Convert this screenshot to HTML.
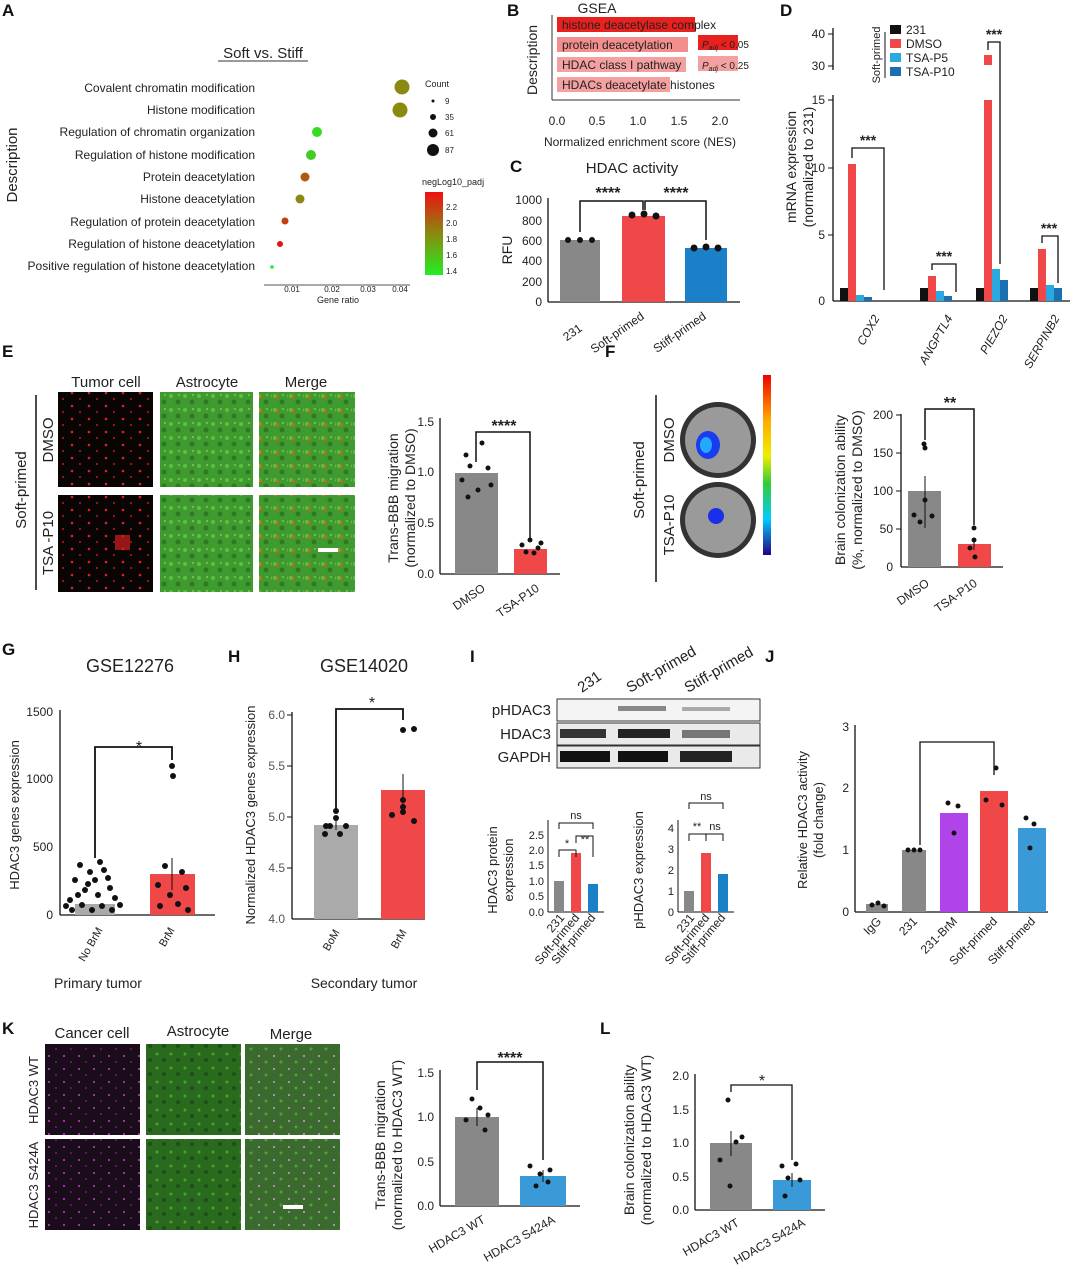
<!DOCTYPE html>
<html><head><meta charset="utf-8"><style>
body{margin:0;background:#fff}
svg{display:block;font-family:"Liberation Sans",Arial,sans-serif}
</style></head><body>
<svg width="1080" height="1273" viewBox="0 0 1080 1273" xmlns="http://www.w3.org/2000/svg">
<defs>
<linearGradient id="gr" x1="0" y1="0" x2="0" y2="1"><stop offset="0" stop-color="#ee1111"/><stop offset="0.5" stop-color="#8a8a10"/><stop offset="1" stop-color="#22ee22"/></linearGradient>
<linearGradient id="rb" x1="0" y1="0" x2="0" y2="1"><stop offset="0" stop-color="#e00"/><stop offset="0.25" stop-color="#fa0"/><stop offset="0.45" stop-color="#ee0"/><stop offset="0.6" stop-color="#3c3"/><stop offset="0.8" stop-color="#0cf"/><stop offset="1" stop-color="#208"/></linearGradient>
<pattern id="gn" width="14" height="14" patternUnits="userSpaceOnUse"><rect width="14" height="14" fill="#3f9a30"/><circle cx="3" cy="4" r="2" fill="#5cc040"/><circle cx="10" cy="10" r="2.5" fill="#2e7a22"/><circle cx="11" cy="3" r="1" fill="#7ad050"/></pattern>
<pattern id="gk" width="14" height="14" patternUnits="userSpaceOnUse"><rect width="14" height="14" fill="#2a6a1e"/><circle cx="3" cy="4" r="1.5" fill="#4aa030"/><circle cx="10" cy="10" r="2" fill="#1e4e16"/></pattern>
<pattern id="rd" width="17" height="13" patternUnits="userSpaceOnUse"><rect width="17" height="13" fill="#0a0505"/><circle cx="4" cy="3" r="1.3" fill="#e02020"/><circle cx="12" cy="9" r="1" fill="#c01818"/></pattern>
<pattern id="mg" width="15" height="13" patternUnits="userSpaceOnUse"><rect width="15" height="13" fill="#1a0c1a"/><circle cx="4" cy="3" r="1" fill="#c040c0"/><circle cx="11" cy="9" r="0.8" fill="#a030a0"/></pattern>
<pattern id="mgm" width="15" height="13" patternUnits="userSpaceOnUse"><rect width="15" height="13" fill="#3a6a2e"/><circle cx="4" cy="3" r="1" fill="#c8a0d0"/><circle cx="11" cy="9" r="1.5" fill="#5a9a40"/></pattern>
<pattern id="mr" width="16" height="14" patternUnits="userSpaceOnUse"><rect width="16" height="14" fill="url(#gn)"/><circle cx="5" cy="5" r="1.5" fill="#e06010"/></pattern>
</defs>
<g font-size="13" fill="#222">
<g font-size="17" font-weight="bold" fill="#111">
<text x="2" y="16">A</text><text x="507" y="16">B</text><text x="510" y="172">C</text><text x="780" y="16">D</text>
<text x="2" y="357">E</text><text x="605" y="357">F</text><text x="2" y="655">G</text><text x="228" y="662">H</text>
<text x="470" y="662">I</text><text x="765" y="662">J</text><text x="2" y="1034">K</text><text x="600" y="1034">L</text>
</g>

<!-- A -->
<text x="263" y="58" text-anchor="middle" font-size="15">Soft  vs. Stiff</text>
<line x1="218" y1="61" x2="308" y2="61" stroke="#333"/>
<text transform="translate(17,165) rotate(-90)" text-anchor="middle" font-size="15">Description</text>
<g text-anchor="end" font-size="12">
<text x="255" y="92">Covalent chromatin modification</text>
<text x="255" y="114">Histone modification</text>
<text x="255" y="136">Regulation of chromatin organization</text>
<text x="255" y="159">Regulation of histone modification</text>
<text x="255" y="181">Protein deacetylation</text>
<text x="255" y="203">Histone deacetylation</text>
<text x="255" y="226">Regulation of protein deacetylation</text>
<text x="255" y="248">Regulation of histone deacetylation</text>
<text x="255" y="270">Positive regulation of histone deacetylation</text>
</g>
<line x1="264" y1="285" x2="410" y2="285" stroke="#555"/>
<g font-size="8" text-anchor="middle"><text x="292" y="292">0.01</text><text x="332" y="292">0.02</text><text x="368" y="292">0.03</text><text x="400" y="292">0.04</text></g>
<text x="338" y="303" font-size="9" text-anchor="middle">Gene ratio</text>
<circle cx="402" cy="87" r="7.5" fill="#8a8a10"/><circle cx="400" cy="110" r="7.5" fill="#8a8a10"/>
<circle cx="317" cy="132" r="5" fill="#33dd22"/><circle cx="311" cy="155" r="5" fill="#44cc22"/>
<circle cx="305" cy="177" r="4.5" fill="#b05a10"/><circle cx="300" cy="199" r="4.5" fill="#8a8a10"/>
<circle cx="285" cy="221" r="3.5" fill="#c04010"/><circle cx="280" cy="244" r="3" fill="#e01515"/>
<circle cx="272" cy="267" r="1.8" fill="#22ee22"/>
<text x="425" y="87" font-size="9">Count</text>
<circle cx="433" cy="101" r="1.5" fill="#111"/><text x="445" y="104" font-size="8">9</text>
<circle cx="433" cy="117" r="3" fill="#111"/><text x="445" y="120" font-size="8">35</text>
<circle cx="433" cy="133" r="4.5" fill="#111"/><text x="445" y="136" font-size="8">61</text>
<circle cx="433" cy="150" r="6" fill="#111"/><text x="445" y="153" font-size="8">87</text>
<text x="422" y="185" font-size="9">negLog10_padj</text>
<rect x="425" y="192" width="18" height="83" fill="url(#gr)"/>
<g font-size="8"><text x="446" y="210">2.2</text><text x="446" y="226">2.0</text><text x="446" y="242">1.8</text><text x="446" y="258">1.6</text><text x="446" y="274">1.4</text></g>

<!-- B -->
<text x="597" y="13" text-anchor="middle" font-size="14">GSEA</text>
<text transform="translate(537,60) rotate(-90)" text-anchor="middle" font-size="14">Description</text>
<line x1="552" y1="15" x2="552" y2="100" stroke="#333"/><line x1="552" y1="100" x2="740" y2="100" stroke="#333"/>
<rect x="557" y="17" width="138" height="15" fill="#e8201e"/>
<rect x="557" y="37" width="131" height="15" fill="#f28e8e"/>
<rect x="557" y="57" width="129" height="15" fill="#f4a0a0"/>
<rect x="557" y="77" width="113" height="15" fill="#f4a0a0"/>
<rect x="698" y="35" width="40" height="15" fill="#e8201e"/>
<rect x="698" y="56" width="40" height="15" fill="#f4a0a0"/>
<g font-size="12"><text x="562" y="29">histone deacetylase complex</text><text x="562" y="49">protein deacetylation</text><text x="562" y="69">HDAC class I pathway</text><text x="562" y="89">HDACs deacetylate histones</text></g>
<g font-size="10" font-style="italic"><text x="702" y="48">P<tspan font-size="7" dy="2">adj</tspan><tspan dy="-2" font-style="normal"> &lt; 0.05</tspan></text><text x="702" y="69">P<tspan font-size="7" dy="2">adj</tspan><tspan dy="-2" font-style="normal"> &lt; 0.25</tspan></text></g>
<g font-size="12" text-anchor="middle"><text x="557" y="125">0.0</text><text x="597" y="125">0.5</text><text x="638" y="125">1.0</text><text x="679" y="125">1.5</text><text x="720" y="125">2.0</text></g>
<text x="640" y="146" text-anchor="middle" font-size="12">Normalized enrichment score (NES)</text>

<!-- C -->
<text x="632" y="173" text-anchor="middle" font-size="15">HDAC activity</text>
<text transform="translate(512,250) rotate(-90)" text-anchor="middle" font-size="14">RFU</text>
<line x1="548" y1="198" x2="548" y2="302" stroke="#111" stroke-width="1.3"/><line x1="548" y1="302" x2="740" y2="302" stroke="#111" stroke-width="1.3"/>
<g font-size="12" text-anchor="end"><text x="542" y="306">0</text><text x="542" y="286">200</text><text x="542" y="265">400</text><text x="542" y="245">600</text><text x="542" y="225">800</text><text x="542" y="204">1000</text></g>
<rect x="560" y="240" width="40" height="62" fill="#888"/><rect x="622" y="216" width="43" height="86" fill="#f04848"/><rect x="685" y="248" width="42" height="54" fill="#1a80c8"/>
<g fill="#111"><circle cx="568" cy="240" r="3"/><circle cx="580" cy="240" r="3"/><circle cx="592" cy="240" r="3"/><circle cx="632" cy="215" r="3.5"/><circle cx="644" cy="214" r="3.5"/><circle cx="656" cy="216" r="3.5"/><circle cx="694" cy="248" r="3.5"/><circle cx="706" cy="247" r="3.5"/><circle cx="718" cy="248" r="3.5"/></g>
<path d="M580 232V201H643V210M645 210V201H706V240" fill="none" stroke="#111" stroke-width="1.5"/>
<text x="608" y="198" text-anchor="middle" font-size="16" font-weight="bold">****</text><text x="676" y="198" text-anchor="middle" font-size="16" font-weight="bold">****</text>
<g font-size="12"><text transform="translate(583,330) rotate(-35)" text-anchor="end">231</text><text transform="translate(645,318) rotate(-35)" text-anchor="end">Soft-primed</text><text transform="translate(707,318) rotate(-35)" text-anchor="end">Stiff-primed</text></g>

<!-- D -->
<text transform="translate(796,167) rotate(-90)" text-anchor="middle" font-size="14">mRNA expression</text>
<text transform="translate(813,167) rotate(-90)" text-anchor="middle" font-size="14">(normalized to 231)</text>
<line x1="833" y1="28" x2="833" y2="70" stroke="#111" stroke-width="1.3"/><line x1="833" y1="95" x2="833" y2="301" stroke="#111" stroke-width="1.3"/>
<line x1="833" y1="301" x2="1070" y2="301" stroke="#111" stroke-width="1.3"/>
<g font-size="12" text-anchor="end"><text x="825" y="38">40</text><text x="825" y="70">30</text><text x="825" y="104">15</text><text x="825" y="172">10</text><text x="825" y="239">5</text><text x="825" y="305">0</text></g>
<g stroke="#111"><line x1="828" y1="34" x2="833" y2="34"/><line x1="828" y1="66" x2="833" y2="66"/><line x1="828" y1="100" x2="833" y2="100"/><line x1="828" y1="168" x2="833" y2="168"/><line x1="828" y1="235" x2="833" y2="235"/></g>
<g>
<rect x="840" y="288" width="8" height="13" fill="#111"/><rect x="848" y="164" width="8" height="137" fill="#f04848"/><rect x="856" y="295" width="8" height="6" fill="#2aa8e0"/><rect x="864" y="297" width="8" height="4" fill="#1a70b0"/>
<rect x="920" y="288" width="8" height="13" fill="#111"/><rect x="928" y="276" width="8" height="25" fill="#f04848"/><rect x="936" y="291" width="8" height="10" fill="#2aa8e0"/><rect x="944" y="296" width="8" height="5" fill="#1a70b0"/>
<rect x="976" y="288" width="8" height="13" fill="#111"/><rect x="984" y="100" width="8" height="201" fill="#f04848"/><rect x="984" y="55" width="8" height="10" fill="#f04848"/><rect x="992" y="269" width="8" height="32" fill="#2aa8e0"/><rect x="1000" y="280" width="8" height="21" fill="#1a70b0"/>
<rect x="1030" y="288" width="8" height="13" fill="#111"/><rect x="1038" y="249" width="8" height="52" fill="#f04848"/><rect x="1046" y="285" width="8" height="16" fill="#2aa8e0"/><rect x="1054" y="288" width="8" height="13" fill="#1a70b0"/>
</g>
<g fill="none" stroke="#111" stroke-width="1.3"><path d="M852 158V148H884V290"/><path d="M932 270V264H956V292"/><path d="M988 50V42H1000V264"/><path d="M1042 243V236H1058V283"/></g>
<g font-size="14" font-weight="bold" text-anchor="middle"><text x="868" y="145">***</text><text x="944" y="261">***</text><text x="994" y="39">***</text><text x="1049" y="233">***</text></g>
<g font-size="12" font-style="italic"><text transform="translate(880,318) rotate(-60)" text-anchor="end">COX2</text><text transform="translate(953,318) rotate(-60)" text-anchor="end">ANGPTL4</text><text transform="translate(1008,318) rotate(-60)" text-anchor="end">PIEZO2</text><text transform="translate(1060,318) rotate(-60)" text-anchor="end">SERPINB2</text></g>
<text transform="translate(880,55) rotate(-90)" text-anchor="middle" font-size="11">Soft-primed</text>
<line x1="885" y1="32" x2="885" y2="78" stroke="#111"/>
<g font-size="12"><rect x="890" y="25" width="11" height="9" fill="#111"/><text x="906" y="34">231</text>
<rect x="890" y="39" width="11" height="9" fill="#f04848"/><text x="906" y="48">DMSO</text>
<rect x="890" y="53" width="11" height="9" fill="#2aa8e0"/><text x="906" y="62">TSA-P5</text>
<rect x="890" y="67" width="11" height="9" fill="#1a70b0"/><text x="906" y="76">TSA-P10</text></g>

<!-- E -->
<g font-size="15" text-anchor="middle"><text x="106" y="387">Tumor cell</text><text x="207" y="387">Astrocyte</text><text x="306" y="387">Merge</text></g>
<rect x="58" y="392" width="95" height="95" fill="url(#rd)"/><rect x="160" y="392" width="93" height="95" fill="url(#gn)"/><rect x="259" y="392" width="96" height="95" fill="url(#mr)"/>
<rect x="58" y="495" width="95" height="97" fill="url(#rd)"/><rect x="160" y="495" width="93" height="97" fill="url(#gn)"/><rect x="259" y="495" width="96" height="97" fill="url(#mr)"/>
<rect x="115" y="535" width="15" height="15" fill="#d02020" opacity="0.7"/><rect x="318" y="548" width="20" height="4" fill="#fff"/>
<line x1="36" y1="395" x2="36" y2="590" stroke="#111" stroke-width="1.5"/>
<text transform="translate(26,490) rotate(-90)" text-anchor="middle" font-size="15">Soft-primed</text>
<text transform="translate(53,440) rotate(-90)" text-anchor="middle" font-size="15">DMSO</text>
<text transform="translate(53,543) rotate(-90)" text-anchor="middle" font-size="15">TSA -P10</text>
<text transform="translate(398,498) rotate(-90)" text-anchor="middle" font-size="14">Trans-BBB migration</text>
<text transform="translate(415,498) rotate(-90)" text-anchor="middle" font-size="14">(normalized to DMSO)</text>
<line x1="440" y1="418" x2="440" y2="574" stroke="#111" stroke-width="1.3"/><line x1="440" y1="574" x2="560" y2="574" stroke="#111" stroke-width="1.3"/>
<g font-size="12" text-anchor="end"><text x="434" y="578">0.0</text><text x="434" y="527">0.5</text><text x="434" y="476">1.0</text><text x="434" y="426">1.5</text></g>
<rect x="455" y="473" width="43" height="101" fill="#888"/><rect x="514" y="549" width="33" height="25" fill="#f04848"/>
<g fill="#111"><circle cx="466" cy="455" r="2.5"/><circle cx="482" cy="443" r="2.5"/><circle cx="470" cy="466" r="2.5"/><circle cx="488" cy="468" r="2.5"/><circle cx="462" cy="480" r="2.5"/><circle cx="478" cy="490" r="2.5"/><circle cx="491" cy="485" r="2.5"/><circle cx="468" cy="497" r="2.5"/><circle cx="522" cy="545" r="2.5"/><circle cx="530" cy="540" r="2.5"/><circle cx="538" cy="548" r="2.5"/><circle cx="526" cy="552" r="2.5"/><circle cx="534" cy="553" r="2.5"/><circle cx="541" cy="543" r="2.5"/></g>
<path d="M476 462V432H530V540" fill="none" stroke="#111" stroke-width="1.5"/>
<text x="504" y="431" text-anchor="middle" font-size="16" font-weight="bold">****</text>
<g font-size="12"><text transform="translate(486,590) rotate(-35)" text-anchor="end">DMSO</text><text transform="translate(540,590) rotate(-35)" text-anchor="end">TSA-P10</text></g>

<!-- F -->
<line x1="656" y1="395" x2="656" y2="582" stroke="#111" stroke-width="1.5"/>
<text transform="translate(644,480) rotate(-90)" text-anchor="middle" font-size="15">Soft-primed</text>
<text transform="translate(674,440) rotate(-90)" text-anchor="middle" font-size="15">DMSO</text>
<text transform="translate(674,525) rotate(-90)" text-anchor="middle" font-size="15">TSA-P10</text>
<circle cx="718" cy="440" r="38" fill="#333"/><circle cx="718" cy="440" r="33" fill="#9a9a9a"/><ellipse cx="708" cy="445" rx="12" ry="14" fill="#1a3cf0"/><ellipse cx="706" cy="445" rx="6" ry="8" fill="#22aaff"/>
<circle cx="718" cy="520" r="38" fill="#333"/><circle cx="718" cy="520" r="33" fill="#9a9a9a"/><circle cx="716" cy="516" r="8" fill="#1a30e8"/>
<rect x="763" y="375" width="8" height="180" fill="url(#rb)"/>
<text transform="translate(845,490) rotate(-90)" text-anchor="middle" font-size="14">Brain colonization ability</text>
<text transform="translate(862,490) rotate(-90)" text-anchor="middle" font-size="14">(%, normalized to DMSO)</text>
<line x1="901" y1="414" x2="901" y2="567" stroke="#111" stroke-width="1.3"/><line x1="901" y1="567" x2="1003" y2="567" stroke="#111" stroke-width="1.3"/>
<g stroke="#111"><line x1="896" y1="415" x2="901" y2="415"/><line x1="896" y1="453" x2="901" y2="453"/><line x1="896" y1="491" x2="901" y2="491"/><line x1="896" y1="529" x2="901" y2="529"/></g>
<g font-size="12" text-anchor="end"><text x="893" y="571">0</text><text x="893" y="533">50</text><text x="893" y="495">100</text><text x="893" y="457">150</text><text x="893" y="419">200</text></g>
<rect x="908" y="491" width="33" height="76" fill="#888"/><rect x="958" y="557" width="33" height="10" fill="#f04848"/><rect x="958" y="544" width="33" height="23" fill="#f04848"/>
<line x1="925" y1="476" x2="925" y2="528" stroke="#111"/><line x1="974" y1="538" x2="974" y2="550" stroke="#111"/>
<g fill="#111"><circle cx="924" cy="444" r="2.5"/><circle cx="925" cy="448" r="2.5"/><circle cx="925" cy="500" r="2.5"/><circle cx="932" cy="516" r="2.5"/><circle cx="920" cy="522" r="2.5"/><circle cx="914" cy="515" r="2.5"/><circle cx="974" cy="528" r="2.5"/><circle cx="974" cy="540" r="2.5"/><circle cx="970" cy="548" r="2.5"/><circle cx="975" cy="557" r="2.5"/></g>
<path d="M925 440V409H974V525" fill="none" stroke="#111" stroke-width="1.5"/>
<text x="950" y="408" text-anchor="middle" font-size="16" font-weight="bold">**</text>
<g font-size="12"><text transform="translate(930,585) rotate(-35)" text-anchor="end">DMSO</text><text transform="translate(978,585) rotate(-35)" text-anchor="end">TSA-P10</text></g>

<!-- G -->
<text x="130" y="672" text-anchor="middle" font-size="18">GSE12276</text>
<text transform="translate(19,815) rotate(-90)" text-anchor="middle" font-size="13">HDAC3 genes expression</text>
<line x1="60" y1="710" x2="60" y2="915" stroke="#111" stroke-width="1.3"/><line x1="60" y1="915" x2="215" y2="915" stroke="#111" stroke-width="1.3"/>
<g font-size="12" text-anchor="end"><text x="53" y="919">0</text><text x="53" y="851">500</text><text x="53" y="783">1000</text><text x="53" y="716">1500</text></g>
<rect x="75" y="904" width="40" height="11" fill="#aaa"/><rect x="150" y="874" width="45" height="41" fill="#f04848"/>
<g fill="#111"><circle cx="80" cy="865" r="3"/><circle cx="100" cy="862" r="3"/><circle cx="90" cy="872" r="3"/><circle cx="75" cy="880" r="3"/><circle cx="108" cy="878" r="3"/><circle cx="85" cy="890" r="3"/><circle cx="98" cy="895" r="3"/><circle cx="70" cy="900" r="3"/><circle cx="115" cy="898" r="3"/><circle cx="82" cy="905" r="3"/><circle cx="102" cy="906" r="3"/><circle cx="92" cy="910" r="3"/><circle cx="110" cy="888" r="3"/><circle cx="78" cy="895" r="3"/><circle cx="88" cy="884" r="3"/><circle cx="104" cy="870" r="3"/><circle cx="72" cy="910" r="3"/><circle cx="112" cy="910" r="3"/><circle cx="95" cy="880" r="3"/><circle cx="120" cy="905" r="3"/><circle cx="66" cy="906" r="3"/><circle cx="172" cy="766" r="3"/><circle cx="173" cy="776" r="3"/><circle cx="165" cy="866" r="3"/><circle cx="182" cy="872" r="3"/><circle cx="158" cy="885" r="3"/><circle cx="186" cy="888" r="3"/><circle cx="170" cy="895" r="3"/><circle cx="178" cy="904" r="3"/><circle cx="160" cy="906" r="3"/><circle cx="188" cy="910" r="3"/></g>
<line x1="172" y1="858" x2="172" y2="890" stroke="#111"/>
<path d="M95 858V747H172V760" fill="none" stroke="#111" stroke-width="1.8"/>
<text x="139" y="752" text-anchor="middle" font-size="16">*</text>
<g font-size="11"><text transform="translate(103,930) rotate(-60)" text-anchor="end">No BrM</text><text transform="translate(175,930) rotate(-60)" text-anchor="end">BrM</text></g>
<text x="98" y="988" text-anchor="middle" font-size="14">Primary tumor</text>

<!-- H -->
<text x="364" y="672" text-anchor="middle" font-size="18">GSE14020</text>
<text transform="translate(255,815) rotate(-90)" text-anchor="middle" font-size="13">Normalized HDAC3 genes expression</text>
<line x1="292" y1="712" x2="292" y2="919" stroke="#111" stroke-width="1.3"/><line x1="292" y1="919" x2="425" y2="919" stroke="#111" stroke-width="1.3"/>
<g stroke="#111"><line x1="287" y1="715" x2="292" y2="715"/><line x1="287" y1="766" x2="292" y2="766"/><line x1="287" y1="817" x2="292" y2="817"/><line x1="287" y1="868" x2="292" y2="868"/></g>
<g font-size="12" text-anchor="end" fill="#555"><text x="285" y="923">4.0</text><text x="285" y="872">4.5</text><text x="285" y="821">5.0</text><text x="285" y="770">5.5</text><text x="285" y="719">6.0</text></g>
<rect x="314" y="825" width="44" height="94" fill="#aaa"/><rect x="381" y="790" width="44" height="129" fill="#f04848"/>
<line x1="336" y1="820" x2="336" y2="830" stroke="#111"/><line x1="403" y1="774" x2="403" y2="806" stroke="#111"/>
<g fill="#111"><circle cx="325" cy="834" r="3"/><circle cx="336" cy="811" r="3"/><circle cx="336" cy="818" r="3"/><circle cx="330" cy="826" r="3"/><circle cx="346" cy="826" r="3"/><circle cx="340" cy="834" r="3"/><circle cx="326" cy="826" r="3"/><circle cx="403" cy="730" r="3"/><circle cx="414" cy="729" r="3"/><circle cx="403" cy="800" r="3"/><circle cx="392" cy="815" r="3"/><circle cx="403" cy="812" r="3"/><circle cx="414" cy="821" r="3"/><circle cx="403" cy="807" r="3"/></g>
<path d="M336 810V709H403V720" fill="none" stroke="#111" stroke-width="1.8"/>
<text x="372" y="708" text-anchor="middle" font-size="16">*</text>
<g font-size="11"><text transform="translate(340,932) rotate(-60)" text-anchor="end">BoM</text><text transform="translate(407,932) rotate(-60)" text-anchor="end">BrM</text></g>
<text x="364" y="988" text-anchor="middle" font-size="14">Secondary tumor</text>

<!-- I -->
<g font-size="15"><text transform="translate(582,693) rotate(-35)">231</text><text transform="translate(630,693) rotate(-30)">Soft-primed</text><text transform="translate(688,693) rotate(-30)">Stiff-primed</text></g>
<g font-size="15" text-anchor="end"><text x="551" y="715">pHDAC3</text><text x="551" y="739">HDAC3</text><text x="551" y="762">GAPDH</text></g>
<rect x="557" y="699" width="203" height="22" fill="#f4f4f4" stroke="#333"/><rect x="557" y="723" width="203" height="22" fill="#eaeaea" stroke="#333"/><rect x="557" y="746" width="203" height="22" fill="#eaeaea" stroke="#333"/>
<rect x="618" y="706" width="48" height="5" fill="#888"/><rect x="682" y="707" width="48" height="4" fill="#aaa"/>
<rect x="560" y="729" width="46" height="9" fill="#333"/><rect x="618" y="729" width="52" height="9" fill="#222"/><rect x="682" y="730" width="48" height="8" fill="#777"/>
<rect x="560" y="751" width="50" height="11" fill="#111"/><rect x="618" y="751" width="50" height="11" fill="#111"/><rect x="680" y="751" width="52" height="11" fill="#222"/>
<text transform="translate(497,870) rotate(-90)" text-anchor="middle" font-size="13">HDAC3 protein</text>
<text transform="translate(513,870) rotate(-90)" text-anchor="middle" font-size="13">expression</text>
<line x1="548" y1="820" x2="548" y2="912" stroke="#111"/><line x1="548" y1="912" x2="604" y2="912" stroke="#111"/>
<g font-size="11" text-anchor="end"><text x="544" y="916">0.0</text><text x="544" y="900">0.5</text><text x="544" y="885">1.0</text><text x="544" y="869">1.5</text><text x="544" y="854">2.0</text><text x="544" y="839">2.5</text></g>
<rect x="554" y="881" width="10" height="31" fill="#888"/><rect x="571" y="853" width="10" height="59" fill="#f04848"/><rect x="588" y="884" width="10" height="28" fill="#1a80c8"/>
<path d="M559 829V823H593V829M559 857V850H576V857M576 843V836H593V857" fill="none" stroke="#111"/>
<g font-size="11" text-anchor="middle"><text x="576" y="819">ns</text><text x="567" y="847">*</text><text x="585" y="843">**</text></g>
<g font-size="12"><text transform="translate(565,918) rotate(-50)" text-anchor="end">231</text><text transform="translate(580,918) rotate(-50)" text-anchor="end">Soft-primed</text><text transform="translate(596,918) rotate(-50)" text-anchor="end">Stiff-primed</text></g>
<text transform="translate(643,870) rotate(-90)" text-anchor="middle" font-size="13">pHDAC3 expression</text>
<line x1="678" y1="820" x2="678" y2="912" stroke="#111"/><line x1="678" y1="912" x2="734" y2="912" stroke="#111"/>
<g font-size="11" text-anchor="end"><text x="674" y="916">0</text><text x="674" y="895">1</text><text x="674" y="874">2</text><text x="674" y="853">3</text><text x="674" y="832">4</text></g>
<rect x="684" y="891" width="10" height="21" fill="#888"/><rect x="701" y="853" width="10" height="59" fill="#f04848"/><rect x="718" y="874" width="10" height="38" fill="#1a80c8"/>
<path d="M689 809V803H723V809M689 841V834H706V841M706 841V834H723V841" fill="none" stroke="#111"/>
<g font-size="11" text-anchor="middle"><text x="706" y="800">ns</text><text x="697" y="830">**</text><text x="715" y="830">ns</text></g>
<g font-size="12"><text transform="translate(695,918) rotate(-50)" text-anchor="end">231</text><text transform="translate(710,918) rotate(-50)" text-anchor="end">Soft-primed</text><text transform="translate(726,918) rotate(-50)" text-anchor="end">Stiff-primed</text></g>

<!-- J -->
<text transform="translate(807,820) rotate(-90)" text-anchor="middle" font-size="13">Relative HDAC3 activity</text>
<text transform="translate(823,820) rotate(-90)" text-anchor="middle" font-size="13">(fold change)</text>
<line x1="855" y1="725" x2="855" y2="912" stroke="#111" stroke-width="1.3"/><line x1="855" y1="912" x2="1048" y2="912" stroke="#111" stroke-width="1.3"/>
<g font-size="12" text-anchor="end"><text x="849" y="916">0</text><text x="849" y="854">1</text><text x="849" y="792">2</text><text x="849" y="731">3</text></g>
<rect x="866" y="904" width="22" height="8" fill="#888"/><rect x="902" y="850" width="24" height="62" fill="#888"/><rect x="940" y="813" width="28" height="99" fill="#b044e8"/><rect x="980" y="791" width="28" height="121" fill="#f04848"/><rect x="1018" y="828" width="28" height="84" fill="#3a9ad8"/>
<g fill="#111"><circle cx="872" cy="905" r="2.5"/><circle cx="878" cy="903" r="2.5"/><circle cx="884" cy="906" r="2.5"/><circle cx="908" cy="850" r="2.5"/><circle cx="914" cy="850" r="2.5"/><circle cx="920" cy="850" r="2.5"/><circle cx="948" cy="803" r="2.5"/><circle cx="958" cy="806" r="2.5"/><circle cx="954" cy="833" r="2.5"/><circle cx="986" cy="800" r="2.5"/><circle cx="996" cy="768" r="2.5"/><circle cx="1002" cy="805" r="2.5"/><circle cx="1026" cy="818" r="2.5"/><circle cx="1034" cy="824" r="2.5"/><circle cx="1030" cy="848" r="2.5"/></g>
<path d="M920 845V742H994V775" fill="none" stroke="#111" stroke-width="1.3"/>
<g font-size="12"><text transform="translate(882,922) rotate(-45)" text-anchor="end">IgG</text><text transform="translate(918,922) rotate(-45)" text-anchor="end">231</text><text transform="translate(958,922) rotate(-45)" text-anchor="end">231-BrM</text><text transform="translate(998,922) rotate(-45)" text-anchor="end">Soft-primed</text><text transform="translate(1036,922) rotate(-45)" text-anchor="end">Stiff-primed</text></g>

<!-- K -->
<g font-size="15" text-anchor="middle"><text x="92" y="1038">Cancer cell</text><text x="198" y="1036">Astrocyte</text><text x="291" y="1039">Merge</text></g>
<rect x="45" y="1044" width="95" height="91" fill="url(#mg)"/><rect x="146" y="1044" width="95" height="91" fill="url(#gk)"/><rect x="245" y="1044" width="95" height="91" fill="url(#mgm)"/>
<rect x="45" y="1139" width="95" height="91" fill="url(#mg)"/><rect x="146" y="1139" width="95" height="91" fill="url(#gk)"/><rect x="245" y="1139" width="95" height="91" fill="url(#mgm)"/>
<rect x="283" y="1205" width="20" height="4" fill="#fff"/>
<text transform="translate(38,1090) rotate(-90)" text-anchor="middle" font-size="13">HDAC3 WT</text>
<text transform="translate(38,1185) rotate(-90)" text-anchor="middle" font-size="13">HDAC3 S424A</text>
<text transform="translate(385,1145) rotate(-90)" text-anchor="middle" font-size="14">Trans-BBB migration</text>
<text transform="translate(402,1145) rotate(-90)" text-anchor="middle" font-size="14">(normalized to HDAC3 WT)</text>
<line x1="440" y1="1070" x2="440" y2="1206" stroke="#111" stroke-width="1.3"/><line x1="440" y1="1206" x2="580" y2="1206" stroke="#111" stroke-width="1.3"/>
<g font-size="12" text-anchor="end"><text x="434" y="1210">0.0</text><text x="434" y="1166">0.5</text><text x="434" y="1121">1.0</text><text x="434" y="1077">1.5</text></g>
<rect x="455" y="1117" width="44" height="89" fill="#888"/><rect x="520" y="1176" width="46" height="30" fill="#3a9ad8"/>
<line x1="477" y1="1108" x2="477" y2="1126" stroke="#111"/><line x1="543" y1="1170" x2="543" y2="1182" stroke="#111"/>
<g fill="#111"><circle cx="472" cy="1099" r="2.5"/><circle cx="480" cy="1108" r="2.5"/><circle cx="488" cy="1115" r="2.5"/><circle cx="466" cy="1120" r="2.5"/><circle cx="485" cy="1130" r="2.5"/><circle cx="530" cy="1166" r="2.5"/><circle cx="540" cy="1174" r="2.5"/><circle cx="550" cy="1170" r="2.5"/><circle cx="536" cy="1186" r="2.5"/><circle cx="548" cy="1182" r="2.5"/></g>
<path d="M477 1090V1062H543V1160" fill="none" stroke="#111" stroke-width="1.5"/>
<text x="510" y="1063" text-anchor="middle" font-size="16" font-weight="bold">****</text>
<g font-size="12"><text transform="translate(486,1222) rotate(-30)" text-anchor="end">HDAC3 WT</text><text transform="translate(556,1222) rotate(-30)" text-anchor="end">HDAC3 S424A</text></g>

<!-- L -->
<text transform="translate(634,1140) rotate(-90)" text-anchor="middle" font-size="14">Brain colonization ability</text>
<text transform="translate(651,1140) rotate(-90)" text-anchor="middle" font-size="14">(normalized to HDAC3 WT)</text>
<line x1="695" y1="1074" x2="695" y2="1210" stroke="#111" stroke-width="1.3"/><line x1="695" y1="1210" x2="825" y2="1210" stroke="#111" stroke-width="1.3"/>
<g font-size="12" text-anchor="end"><text x="689" y="1214">0.0</text><text x="689" y="1181">0.5</text><text x="689" y="1147">1.0</text><text x="689" y="1114">1.5</text><text x="689" y="1080">2.0</text></g>
<rect x="710" y="1143" width="42" height="67" fill="#888"/><rect x="773" y="1180" width="38" height="30" fill="#3a9ad8"/>
<line x1="731" y1="1131" x2="731" y2="1156" stroke="#111"/><line x1="792" y1="1173" x2="792" y2="1187" stroke="#111"/>
<g fill="#111"><circle cx="728" cy="1100" r="2.5"/><circle cx="736" cy="1142" r="2.5"/><circle cx="742" cy="1137" r="2.5"/><circle cx="720" cy="1160" r="2.5"/><circle cx="730" cy="1186" r="2.5"/><circle cx="782" cy="1166" r="2.5"/><circle cx="796" cy="1164" r="2.5"/><circle cx="788" cy="1178" r="2.5"/><circle cx="800" cy="1180" r="2.5"/><circle cx="785" cy="1196" r="2.5"/></g>
<path d="M731 1092V1085H792V1160" fill="none" stroke="#111" stroke-width="1.3"/>
<text x="762" y="1086" text-anchor="middle" font-size="16">*</text>
<g font-size="12"><text transform="translate(740,1225) rotate(-30)" text-anchor="end">HDAC3 WT</text><text transform="translate(806,1225) rotate(-30)" text-anchor="end">HDAC3 S424A</text></g>
</g>
</svg>
</body></html>
